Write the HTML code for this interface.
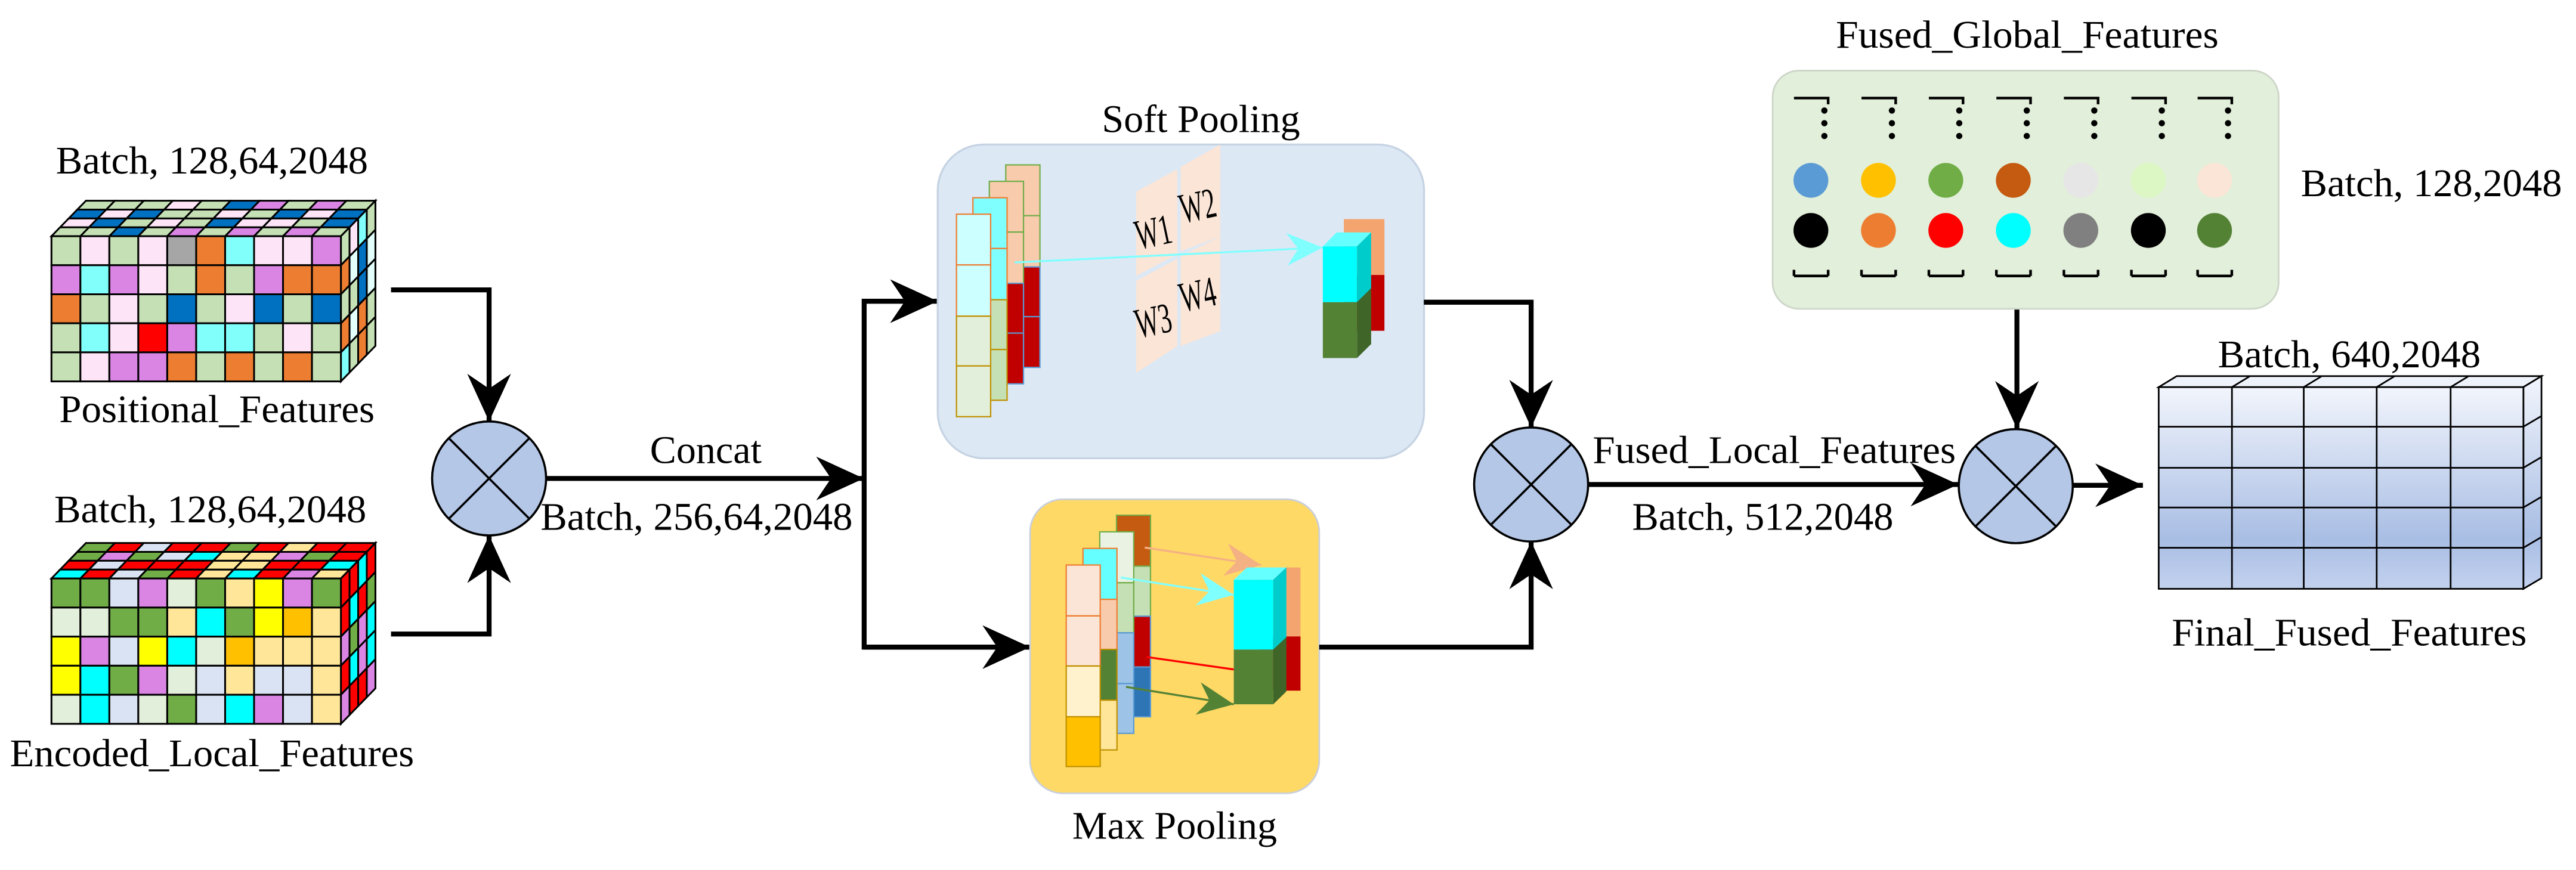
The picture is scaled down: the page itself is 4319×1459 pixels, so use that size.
<!DOCTYPE html>
<html><head><meta charset="utf-8"><style>
html,body{margin:0;padding:0;background:#fff;width:4319px;height:1459px;overflow:hidden}
svg{display:block}
svg text{font-family:"Liberation Serif","Times New Roman",Times,"DejaVu Serif",serif !important;fill:#000}
.u rect{width:1px;height:1px}
.u rect,.u polygon{stroke:#000;stroke-width:3;vector-effect:non-scaling-stroke}
</style></head><body>
<svg width="4319" height="1459" viewBox="0 0 1568 529.7" xmlns="http://www.w3.org/2000/svg" font-family="Liberation Serif, Times New Roman, serif">
<defs>
<marker id="ah" markerUnits="userSpaceOnUse" markerWidth="32" markerHeight="30" viewBox="-30 -15 32 30" refX="0" refY="0" orient="auto"><path d="M0,0 L-29,-13.3 L-20,0 L-29,13.3Z" fill="#000"/></marker>
<marker id="ac" markerUnits="userSpaceOnUse" markerWidth="26" markerHeight="24" viewBox="-24 -12 26 24" refX="0" refY="0" orient="auto"><path d="M0,0 L-22,-10 L-15,0 L-22,10Z" fill="#80ffff"/></marker>
<marker id="ap" markerUnits="userSpaceOnUse" markerWidth="26" markerHeight="24" viewBox="-24 -12 26 24" refX="0" refY="0" orient="auto"><path d="M0,0 L-22,-10 L-15,0 L-22,10Z" fill="#f4b183"/></marker>
<marker id="ag" markerUnits="userSpaceOnUse" markerWidth="26" markerHeight="24" viewBox="-24 -12 26 24" refX="0" refY="0" orient="auto"><path d="M0,0 L-22,-10 L-15,0 L-22,10Z" fill="#548235"/></marker>
<linearGradient id="fg" x1="0" y1="0" x2="0" y2="1"><stop offset="0" stop-color="#f2f5fc"/><stop offset="0.75" stop-color="#a9bee4"/><stop offset="1" stop-color="#c3d1ee"/></linearGradient>
</defs>

<!-- Positional cube -->
<text x="129" y="105.6" font-size="24" text-anchor="middle" textLength="190" lengthAdjust="spacingAndGlyphs">Batch, 128,64,2048</text>
<g class="u" transform="matrix(17.62,0,5.25,-5.4,31.3,143.8)">
<rect x="0" y="3" fill="#c5e0b4"/><rect x="1" y="3" fill="#c5e0b4"/><rect x="2" y="3" fill="#c5e0b4"/><rect x="3" y="3" fill="#fde4f7"/><rect x="4" y="3" fill="#c5e0b4"/><rect x="5" y="3" fill="#0070c0"/><rect x="6" y="3" fill="#da85e4"/><rect x="7" y="3" fill="#c5e0b4"/><rect x="8" y="3" fill="#da85e4"/><rect x="9" y="3" fill="#c5e0b4"/>
<rect x="0" y="2" fill="#0070c0"/><rect x="1" y="2" fill="#fde4f7"/><rect x="2" y="2" fill="#0070c0"/><rect x="3" y="2" fill="#c5e0b4"/><rect x="4" y="2" fill="#c5e0b4"/><rect x="5" y="2" fill="#fde4f7"/><rect x="6" y="2" fill="#c5e0b4"/><rect x="7" y="2" fill="#0070c0"/><rect x="8" y="2" fill="#fde4f7"/><rect x="9" y="2" fill="#0070c0"/>
<rect x="0" y="1" fill="#fde4f7"/><rect x="1" y="1" fill="#0070c0"/><rect x="2" y="1" fill="#c5e0b4"/><rect x="3" y="1" fill="#fde4f7"/><rect x="4" y="1" fill="#c5e0b4"/><rect x="5" y="1" fill="#0070c0"/><rect x="6" y="1" fill="#fde4f7"/><rect x="7" y="1" fill="#fde4f7"/><rect x="8" y="1" fill="#c5e0b4"/><rect x="9" y="1" fill="#0070c0"/>
<rect x="0" y="0" fill="#c5e0b4"/><rect x="1" y="0" fill="#c5e0b4"/><rect x="2" y="0" fill="#0070c0"/><rect x="3" y="0" fill="#c5e0b4"/><rect x="4" y="0" fill="#da85e4"/><rect x="5" y="0" fill="#c5e0b4"/><rect x="6" y="0" fill="#da85e4"/><rect x="7" y="0" fill="#c5e0b4"/><rect x="8" y="0" fill="#da85e4"/><rect x="9" y="0" fill="#c5e0b4"/>
</g>
<g class="u" transform="matrix(5.25,-5.4,0,17.68,207.5,143.8)">
<rect x="0" y="0" fill="#c5e0b4"/><rect x="0" y="1" fill="#ed7d31"/><rect x="0" y="2" fill="#c5e0b4"/><rect x="0" y="3" fill="#ed7d31"/><rect x="0" y="4" fill="#80fffb"/>
<rect x="1" y="0" fill="#fde4f7"/><rect x="1" y="1" fill="#e2fffb"/><rect x="1" y="2" fill="#c5e0b4"/><rect x="1" y="3" fill="#e2fffb"/><rect x="1" y="4" fill="#c5e0b4"/>
<rect x="2" y="0" fill="#80fffb"/><rect x="2" y="1" fill="#0070c0"/><rect x="2" y="2" fill="#0070c0"/><rect x="2" y="3" fill="#ed7d31"/><rect x="2" y="4" fill="#ed7d31"/>
<rect x="3" y="0" fill="#c5e0b4"/><rect x="3" y="1" fill="#e2fffb"/><rect x="3" y="2" fill="#e2fffb"/><rect x="3" y="3" fill="#c5e0b4"/><rect x="3" y="4" fill="#c5e0b4"/>
</g>
<g class="u" transform="matrix(17.62,0,0,17.68,31.3,143.8)">
<rect x="0" y="0" fill="#c5e0b4"/><rect x="1" y="0" fill="#fde4f7"/><rect x="2" y="0" fill="#c5e0b4"/><rect x="3" y="0" fill="#fde4f7"/><rect x="4" y="0" fill="#a6a6a6"/><rect x="5" y="0" fill="#ed7d31"/><rect x="6" y="0" fill="#80fffb"/><rect x="7" y="0" fill="#fde4f7"/><rect x="8" y="0" fill="#fde4f7"/><rect x="9" y="0" fill="#da85e4"/>
<rect x="0" y="1" fill="#da85e4"/><rect x="1" y="1" fill="#80fffb"/><rect x="2" y="1" fill="#da85e4"/><rect x="3" y="1" fill="#fde4f7"/><rect x="4" y="1" fill="#c5e0b4"/><rect x="5" y="1" fill="#ed7d31"/><rect x="6" y="1" fill="#c5e0b4"/><rect x="7" y="1" fill="#da85e4"/><rect x="8" y="1" fill="#ed7d31"/><rect x="9" y="1" fill="#ed7d31"/>
<rect x="0" y="2" fill="#ed7d31"/><rect x="1" y="2" fill="#c5e0b4"/><rect x="2" y="2" fill="#fde4f7"/><rect x="3" y="2" fill="#c5e0b4"/><rect x="4" y="2" fill="#0070c0"/><rect x="5" y="2" fill="#c5e0b4"/><rect x="6" y="2" fill="#fde4f7"/><rect x="7" y="2" fill="#0070c0"/><rect x="8" y="2" fill="#c5e0b4"/><rect x="9" y="2" fill="#0070c0"/>
<rect x="0" y="3" fill="#c5e0b4"/><rect x="1" y="3" fill="#80fffb"/><rect x="2" y="3" fill="#fde4f7"/><rect x="3" y="3" fill="#ff0000"/><rect x="4" y="3" fill="#da85e4"/><rect x="5" y="3" fill="#80fffb"/><rect x="6" y="3" fill="#80fffb"/><rect x="7" y="3" fill="#c5e0b4"/><rect x="8" y="3" fill="#fde4f7"/><rect x="9" y="3" fill="#c5e0b4"/>
<rect x="0" y="4" fill="#c5e0b4"/><rect x="1" y="4" fill="#fde4f7"/><rect x="2" y="4" fill="#da85e4"/><rect x="3" y="4" fill="#da85e4"/><rect x="4" y="4" fill="#ed7d31"/><rect x="5" y="4" fill="#c5e0b4"/><rect x="6" y="4" fill="#ed7d31"/><rect x="7" y="4" fill="#c5e0b4"/><rect x="8" y="4" fill="#ed7d31"/><rect x="9" y="4" fill="#c5e0b4"/>
</g>
<text x="132" y="257" font-size="24" text-anchor="middle" textLength="192" lengthAdjust="spacingAndGlyphs">Positional_Features</text>

<!-- Encoded cube -->
<text x="128" y="318" font-size="24" text-anchor="middle" textLength="190" lengthAdjust="spacingAndGlyphs">Batch, 128,64,2048</text>
<g class="u" transform="matrix(17.62,0,5.25,-5.4,31.3,352.2)">
<rect x="0" y="3" fill="#70ad47"/><rect x="1" y="3" fill="#ff0000"/><rect x="2" y="3" fill="#dae3f3"/><rect x="3" y="3" fill="#ff0000"/><rect x="4" y="3" fill="#ff0000"/><rect x="5" y="3" fill="#70ad47"/><rect x="6" y="3" fill="#ff0000"/><rect x="7" y="3" fill="#ffe699"/><rect x="8" y="3" fill="#ff0000"/><rect x="9" y="3" fill="#ff0000"/>
<rect x="0" y="2" fill="#70ad47"/><rect x="1" y="2" fill="#da85e4"/><rect x="2" y="2" fill="#70ad47"/><rect x="3" y="2" fill="#dae3f3"/><rect x="4" y="2" fill="#00ffff"/><rect x="5" y="2" fill="#ffe699"/><rect x="6" y="2" fill="#ffe699"/><rect x="7" y="2" fill="#da85e4"/><rect x="8" y="2" fill="#70ad47"/><rect x="9" y="2" fill="#ff0000"/>
<rect x="0" y="1" fill="#ff0000"/><rect x="1" y="1" fill="#dae3f3"/><rect x="2" y="1" fill="#ff0000"/><rect x="3" y="1" fill="#ff0000"/><rect x="4" y="1" fill="#ff0000"/><rect x="5" y="1" fill="#ffe699"/><rect x="6" y="1" fill="#ffe699"/><rect x="7" y="1" fill="#ff0000"/><rect x="8" y="1" fill="#ff0000"/><rect x="9" y="1" fill="#00ffff"/>
<rect x="0" y="0" fill="#00ffff"/><rect x="1" y="0" fill="#ff0000"/><rect x="2" y="0" fill="#dae3f3"/><rect x="3" y="0" fill="#70ad47"/><rect x="4" y="0" fill="#ff0000"/><rect x="5" y="0" fill="#ffe699"/><rect x="6" y="0" fill="#00ffff"/><rect x="7" y="0" fill="#ff0000"/><rect x="8" y="0" fill="#da85e4"/><rect x="9" y="0" fill="#ffe699"/>
</g>
<g class="u" transform="matrix(5.25,-5.4,0,17.7,207.5,352.2)">
<rect x="0" y="0" fill="#ff0000"/><rect x="0" y="1" fill="#ff0000"/><rect x="0" y="2" fill="#da85e4"/><rect x="0" y="3" fill="#ff0000"/><rect x="0" y="4" fill="#da85e4"/>
<rect x="1" y="0" fill="#ff0000"/><rect x="1" y="1" fill="#00ffff"/><rect x="1" y="2" fill="#70ad47"/><rect x="1" y="3" fill="#00ffff"/><rect x="1" y="4" fill="#ff0000"/>
<rect x="2" y="0" fill="#00ffff"/><rect x="2" y="1" fill="#ff0000"/><rect x="2" y="2" fill="#da85e4"/><rect x="2" y="3" fill="#da85e4"/><rect x="2" y="4" fill="#ff0000"/>
<rect x="3" y="0" fill="#ff0000"/><rect x="3" y="1" fill="#70ad47"/><rect x="3" y="2" fill="#00ffff"/><rect x="3" y="3" fill="#00ffff"/><rect x="3" y="4" fill="#da85e4"/>
</g>
<g class="u" transform="matrix(17.62,0,0,17.7,31.3,352.2)">
<rect x="0" y="0" fill="#70ad47"/><rect x="1" y="0" fill="#70ad47"/><rect x="2" y="0" fill="#dae3f3"/><rect x="3" y="0" fill="#da85e4"/><rect x="4" y="0" fill="#e2efda"/><rect x="5" y="0" fill="#70ad47"/><rect x="6" y="0" fill="#ffe699"/><rect x="7" y="0" fill="#ffff00"/><rect x="8" y="0" fill="#da85e4"/><rect x="9" y="0" fill="#70ad47"/>
<rect x="0" y="1" fill="#e2efda"/><rect x="1" y="1" fill="#e2efda"/><rect x="2" y="1" fill="#70ad47"/><rect x="3" y="1" fill="#70ad47"/><rect x="4" y="1" fill="#ffe699"/><rect x="5" y="1" fill="#00ffff"/><rect x="6" y="1" fill="#70ad47"/><rect x="7" y="1" fill="#ffff00"/><rect x="8" y="1" fill="#ffc000"/><rect x="9" y="1" fill="#ffe699"/>
<rect x="0" y="2" fill="#ffff00"/><rect x="1" y="2" fill="#da85e4"/><rect x="2" y="2" fill="#dae3f3"/><rect x="3" y="2" fill="#ffff00"/><rect x="4" y="2" fill="#00ffff"/><rect x="5" y="2" fill="#e2efda"/><rect x="6" y="2" fill="#ffc000"/><rect x="7" y="2" fill="#ffe699"/><rect x="8" y="2" fill="#ffe699"/><rect x="9" y="2" fill="#ffe699"/>
<rect x="0" y="3" fill="#ffff00"/><rect x="1" y="3" fill="#00ffff"/><rect x="2" y="3" fill="#70ad47"/><rect x="3" y="3" fill="#da85e4"/><rect x="4" y="3" fill="#e2efda"/><rect x="5" y="3" fill="#dae3f3"/><rect x="6" y="3" fill="#ffe699"/><rect x="7" y="3" fill="#dae3f3"/><rect x="8" y="3" fill="#dae3f3"/><rect x="9" y="3" fill="#ffe699"/>
<rect x="0" y="4" fill="#e2efda"/><rect x="1" y="4" fill="#00ffff"/><rect x="2" y="4" fill="#dae3f3"/><rect x="3" y="4" fill="#e2efda"/><rect x="4" y="4" fill="#70ad47"/><rect x="5" y="4" fill="#dae3f3"/><rect x="6" y="4" fill="#00ffff"/><rect x="7" y="4" fill="#da85e4"/><rect x="8" y="4" fill="#dae3f3"/><rect x="9" y="4" fill="#ffe699"/>
</g>
<text x="129" y="466.6" font-size="24" text-anchor="middle" textLength="246" lengthAdjust="spacingAndGlyphs">Encoded_Local_Features</text>

<!-- arrows left -->
<g fill="none" stroke="#000" stroke-width="3" stroke-linejoin="miter">
<polyline points="238,176.5 297.7,176.5 297.7,256.6" marker-end="url(#ah)"/>
<polyline points="238,386 297.7,386 297.7,326" marker-end="url(#ah)"/>
<line x1="332" y1="291.3" x2="525.8" y2="291.3" marker-end="url(#ah)"/>
<polyline points="571,183.4 526,183.4 526,394 627,394"/>
<line x1="526" y1="183.4" x2="570.8" y2="183.4" marker-end="url(#ah)"/>
<line x1="526" y1="394" x2="627" y2="394" marker-end="url(#ah)"/>
</g>
<!-- circle1 -->
<g stroke="#000" stroke-width="1.3">
<circle cx="297.7" cy="291.3" r="34.7" fill="#b4c7e7"/>
<line x1="273.2" y1="266.8" x2="322.2" y2="315.8"/><line x1="322.2" y1="266.8" x2="273.2" y2="315.8"/>
</g>
<text x="429.6" y="282" font-size="24" text-anchor="middle">Concat</text>
<text x="424" y="322.5" font-size="24" text-anchor="middle" textLength="190" lengthAdjust="spacingAndGlyphs">Batch, 256,64,2048</text>

<!-- Soft pooling box -->
<text x="731" y="80.4" font-size="24" text-anchor="middle">Soft Pooling</text>
<rect x="570.8" y="88" width="296" height="191" rx="28" fill="#dde8f5" stroke="#c6d3e3" stroke-width="1.2"/>
<g stroke-width="0.8">
<g transform="translate(30,-30)" stroke="#70ad47"><rect x="582.2" y="130.4" width="20.8" height="30.9" fill="#f8cbad"/><rect x="582.2" y="161.3" width="20.8" height="31.2" fill="#f8cbad"/><rect x="582.2" y="192.5" width="20.8" height="30.3" fill="#c00000" stroke="#5b9bd5"/><rect x="582.2" y="222.8" width="20.8" height="30.9" fill="#c00000" stroke="#5b9bd5"/></g>
<g transform="translate(20,-20)" stroke="#70ad47"><rect x="582.2" y="130.4" width="20.8" height="30.9" fill="#f8cbad"/><rect x="582.2" y="161.3" width="20.8" height="31.2" fill="#f8cbad"/><rect x="582.2" y="192.5" width="20.8" height="30.3" fill="#c00000" stroke="#5b9bd5"/><rect x="582.2" y="222.8" width="20.8" height="30.9" fill="#c00000" stroke="#5b9bd5"/></g>
<g transform="translate(10,-10)" stroke="#ed7d31"><rect x="582.2" y="130.4" width="20.8" height="30.9" fill="#80ffff"/><rect x="582.2" y="161.3" width="20.8" height="31.2" fill="#80ffff"/><rect x="582.2" y="192.5" width="20.8" height="30.3" fill="#c5e0b4" stroke="#bf9000"/><rect x="582.2" y="222.8" width="20.8" height="30.9" fill="#c5e0b4" stroke="#bf9000"/></g>
<g stroke="#ed7d31"><rect x="582.2" y="130.4" width="20.8" height="30.9" fill="#ccffff"/><rect x="582.2" y="161.3" width="20.8" height="31.2" fill="#ccffff"/><rect x="582.2" y="192.5" width="20.8" height="30.3" fill="#e2efda" stroke="#bf9000"/><rect x="582.2" y="222.8" width="20.8" height="30.9" fill="#e2efda" stroke="#bf9000"/></g>
</g>
<!-- W panels -->
<g fill="#fbe5d6">
<polygon points="691.6,116.7 716.6,103.1 716.6,154.6 691.6,168"/>
<polygon points="718.7,101.6 742.7,88 742.7,144 718.7,153"/>
<polygon points="691.6,171 716.6,157.6 716.6,210.7 691.6,227"/>
<polygon points="718.7,156 742.7,144 742.7,201.6 718.7,210.7"/>
</g>
<g font-size="26">
<text transform="translate(693,152) rotate(-12)" textLength="22" lengthAdjust="spacingAndGlyphs">W1</text>
<text transform="translate(720,136) rotate(-12)" textLength="22" lengthAdjust="spacingAndGlyphs">W2</text>
<text transform="translate(693,206) rotate(-12)" textLength="22" lengthAdjust="spacingAndGlyphs">W3</text>
<text transform="translate(720,190) rotate(-12)" textLength="22" lengthAdjust="spacingAndGlyphs">W4</text>
</g>
<line x1="617.6" y1="159.8" x2="805.2" y2="150.7" stroke="#80ffff" stroke-width="1.2" marker-end="url(#ac)"/>
<!-- soft output cube -->
<rect x="818" y="133.4" width="24.7" height="34" fill="#f4a46e"/>
<rect x="818" y="167.4" width="24.7" height="34" fill="#c00000"/>
<polygon points="805.2,150 813.6,141.5 834.6,141.5 826,150" fill="#66ffff"/>
<polygon points="826,150 834.6,141.5 834.6,175.5 826,184" fill="#00cccc"/>
<polygon points="826,184 834.6,175.5 834.6,209.5 826,218" fill="#3f6628"/>
<rect x="805.2" y="150" width="20.8" height="34" fill="#00ffff"/>
<rect x="805.2" y="184" width="20.8" height="34" fill="#548235"/>

<!-- Max pooling box -->
<rect x="627" y="304" width="176" height="179" rx="20" fill="#ffd966" stroke="#c9cfdc" stroke-width="1"/>
<text x="715" y="510.6" font-size="24" text-anchor="middle">Max Pooling</text>
<g stroke-width="0.8">
<g transform="translate(30.6,-30.3)" stroke="#70ad47"><rect x="649" y="344" width="20.7" height="31" fill="#c55a11"/><rect x="649" y="375" width="20.7" height="30.5" fill="#c5e0b4"/><rect x="649" y="405.5" width="20.7" height="30.9" fill="#c00000" stroke="#5b9bd5"/><rect x="649" y="436.4" width="20.7" height="30.3" fill="#2e75b6" stroke="#5b9bd5"/></g>
<g transform="translate(20.4,-20.2)" stroke="#70ad47"><rect x="649" y="344" width="20.7" height="31" fill="#eaf2e4"/><rect x="649" y="375" width="20.7" height="30.5" fill="#c5e0b4"/><rect x="649" y="405.5" width="20.7" height="30.9" fill="#9dc3e6" stroke="#5b9bd5"/><rect x="649" y="436.4" width="20.7" height="30.3" fill="#9dc3e6" stroke="#5b9bd5"/></g>
<g transform="translate(10.2,-10.1)" stroke="#ed7d31"><rect x="649" y="344" width="20.7" height="31" fill="#66ffff"/><rect x="649" y="375" width="20.7" height="30.5" fill="#f8cbad"/><rect x="649" y="405.5" width="20.7" height="30.9" fill="#548235" stroke="#bf9000"/><rect x="649" y="436.4" width="20.7" height="30.3" fill="#ffe699" stroke="#bf9000"/></g>
<g stroke="#ed7d31"><rect x="649" y="344" width="20.7" height="31" fill="#fbe5d6"/><rect x="649" y="375" width="20.7" height="30.5" fill="#fbe5d6"/><rect x="649" y="405.5" width="20.7" height="30.9" fill="#fff2cc" stroke="#bf9000"/><rect x="649" y="436.4" width="20.7" height="30.3" fill="#ffc000" stroke="#bf9000"/></g>
</g>
<line x1="696.8" y1="333.4" x2="767.7" y2="344" stroke="#f4b183" stroke-width="1.2" marker-end="url(#ap)"/>
<!-- max output cube -->
<rect x="767" y="345.5" width="24.6" height="42" fill="#f4a46e"/>
<rect x="767" y="387.5" width="24.6" height="33" fill="#c00000"/>
<polygon points="751,353 759,345.5 783,345.5 775,353" fill="#66ffff"/>
<polygon points="775,353 783,345.5 783,388 775,395.5" fill="#00cccc"/>
<polygon points="775,395.5 783,388 783,421 775,428.8" fill="#3f6628"/>
<rect x="751" y="353" width="24" height="42.5" fill="#00ffff"/>
<rect x="751" y="395.5" width="24" height="33.3" fill="#548235"/>
<line x1="682.2" y1="351.6" x2="751" y2="362.2" stroke="#80ffff" stroke-width="1.2" marker-end="url(#ac)"/>
<line x1="697.9" y1="400" x2="751" y2="407.6" stroke="#ff0000" stroke-width="1.2"/>
<line x1="685.4" y1="418.2" x2="751" y2="428.8" stroke="#548235" stroke-width="1.2" marker-end="url(#ag)"/>

<!-- middle arrows -->
<g fill="none" stroke="#000" stroke-width="3">
<polyline points="866.7,184 932,184 932,260.3" marker-end="url(#ah)"/>
<polyline points="803,394 932,394 932,329.7" marker-end="url(#ah)"/>
<line x1="966.7" y1="295" x2="1192" y2="295" marker-end="url(#ah)"/>
<line x1="1227.7" y1="188" x2="1227.7" y2="261" marker-end="url(#ah)"/>
<line x1="1261.7" y1="295.5" x2="1304.4" y2="295.5" marker-end="url(#ah)"/>
</g>
<g stroke="#000" stroke-width="1.3">
<circle cx="932" cy="295" r="34.7" fill="#b4c7e7"/>
<line x1="907.5" y1="270.5" x2="956.5" y2="319.5"/><line x1="956.5" y1="270.5" x2="907.5" y2="319.5"/>
<circle cx="1227" cy="296" r="34.7" fill="#b4c7e7"/>
<line x1="1202.5" y1="271.5" x2="1251.5" y2="320.5"/><line x1="1251.5" y1="271.5" x2="1202.5" y2="320.5"/>
</g>
<text x="1080" y="282" font-size="24" text-anchor="middle" textLength="221" lengthAdjust="spacingAndGlyphs">Fused_Local_Features</text>
<text x="1073" y="322.5" font-size="24" text-anchor="middle" textLength="159" lengthAdjust="spacingAndGlyphs">Batch, 512,2048</text>

<!-- Global box -->
<text x="1234" y="29" font-size="24" text-anchor="middle" textLength="233" lengthAdjust="spacingAndGlyphs">Fused_Global_Features</text>
<rect x="1079" y="43" width="308" height="145" rx="16" fill="#e2efda" stroke="#cdd5c8" stroke-width="1"/>
<text x="1480" y="119.5" font-size="24" text-anchor="middle" textLength="159" lengthAdjust="spacingAndGlyphs">Batch, 128,2048</text>
<g id="col">
<path d="M1092,59.7 H1112.8 V63.5 M1092,168 H1112.8 M1092,168 V164.3 M1112.8,168 V164.3" fill="none" stroke="#000" stroke-width="1.6"/>
<circle cx="1110.5" cy="67.3" r="1.9"/><circle cx="1110.5" cy="75" r="1.9"/><circle cx="1110.5" cy="82.8" r="1.9"/>
</g>
<use href="#col" x="41.1"/><use href="#col" x="82.1"/><use href="#col" x="123.2"/><use href="#col" x="164.3"/><use href="#col" x="205.4"/><use href="#col" x="245.7"/>
<g>
<circle cx="1102.3" cy="109.8" r="10.6" fill="#5b9bd5"/><circle cx="1143.4" cy="109.8" r="10.6" fill="#ffc000"/><circle cx="1184.4" cy="109.8" r="10.6" fill="#70ad47"/><circle cx="1225.5" cy="109.8" r="10.6" fill="#c55a11"/><circle cx="1266.6" cy="109.8" r="10.6" fill="#e7e6e6"/><circle cx="1307.7" cy="109.8" r="10.6" fill="#dcf7c4"/><circle cx="1348" cy="109.8" r="10.6" fill="#fbe5d6"/>
<circle cx="1102.3" cy="140.3" r="10.6" fill="#000"/><circle cx="1143.4" cy="140.3" r="10.6" fill="#ed7d31"/><circle cx="1184.4" cy="140.3" r="10.6" fill="#ff0000"/><circle cx="1225.5" cy="140.3" r="10.6" fill="#00ffff"/><circle cx="1266.6" cy="140.3" r="10.6" fill="#808080"/><circle cx="1307.7" cy="140.3" r="10.6" fill="#000"/><circle cx="1348" cy="140.3" r="10.6" fill="#548235"/>
</g>

<!-- Final block -->
<text x="1430" y="223.7" font-size="24" text-anchor="middle" textLength="160" lengthAdjust="spacingAndGlyphs">Batch, 640,2048</text>
<g stroke="#000" stroke-width="1">
<polygon points="1314,235.7 1536,235.7 1547,229 1325,229" fill="#eef2fb"/>
<polygon points="1536,235.7 1547,229 1547,352 1536,358.5" fill="url(#fg)"/>
<rect x="1314" y="235.7" width="222" height="122.8" fill="url(#fg)"/>
<path d="M1358.6,235.7 V358.5 M1402.3,235.7 V358.5 M1446.7,235.7 V358.5 M1491.7,235.7 V358.5 M1314,259.8 H1536 M1314,284.8 H1536 M1314,309 H1536 M1314,333.5 H1536 M1358.6,235.7 L1369.6,229 M1402.3,235.7 L1413.3,229 M1446.7,235.7 L1457.7,229 M1491.7,235.7 L1502.7,229 M1536,259.8 L1547,253.3 M1536,284.8 L1547,278.3 M1536,309 L1547,302.5 M1536,333.5 L1547,327" fill="none"/>
</g>
<text x="1430" y="393" font-size="24" text-anchor="middle" textLength="216" lengthAdjust="spacingAndGlyphs">Final_Fused_Features</text>
</svg>
</body></html>
